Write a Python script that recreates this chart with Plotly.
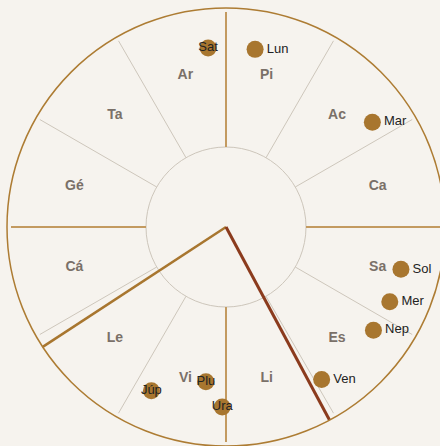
import plotly.graph_objects as go

# ---- data ----
SIGNS = ["Ar", "Ta", "Gé", "Cá", "Le", "Vi", "Li", "Es", "Sa", "Ca", "Ac", "Pi"]
SIGN_START = [0, 30, 60, 90, 120, 150, 180, 210, 240, 270, 300, 330]
PLANETS = ["Sol", "Lun", "Mer", "Ven", "Mar", "Júp", "Sat", "Ura", "Nep", "Plu"]
PLANET_LON = [256.4, 350.7, 245.5, 212.1, 305.6, 155.5, 5.7, 178.8, 235.0, 172.6]
PLANET_R = [180, 180, 180, 180, 180, 180, 180, 180, 180, 156]
ANGLES = ["Asc", "MC"]
ANGLE_LON = [123.2, 208.2]

# ---- style ----
BG = "#f6f3ee"
GOLD = "#a8762f"
RIM = "#ad7c33"
CARD = "#c39a60"
GRAY = "#cdc6bb"
INNER_R, LINE_R, LABEL_R, OUTER_R = 80, 215, 157, 219

fig = go.Figure()

card_r, card_t, oth_r, oth_t = [], [], [], []
for s in SIGN_START:
    if s % 90 == 0:
        card_r += [INNER_R, LINE_R, None]
        card_t += [s, s, None]
    else:
        oth_r += [INNER_R, LINE_R, None]
        oth_t += [s, s, None]

fig.add_trace(go.Scatterpolar(r=oth_r, theta=oth_t, mode="lines",
                              line=dict(color=GRAY, width=1), hoverinfo="skip"))
fig.add_trace(go.Scatterpolar(r=card_r, theta=card_t, mode="lines",
                              line=dict(color=CARD, width=2), hoverinfo="skip"))

fig.add_trace(go.Scatterpolar(
    r=[LABEL_R] * len(SIGNS), theta=[s + 15 for s in SIGN_START], text=SIGNS,
    mode="text", textfont=dict(family="Liberation Sans, Arial, sans-serif",
                               size=14, color="#7a7068", weight="bold"),
    hoverinfo="skip"))

angle_colors = [GOLD, "#8b3b1d"]
angle_widths = [2.5, 3]
for name, lon, c, w in zip(ANGLES, ANGLE_LON, angle_colors, angle_widths):
    fig.add_trace(go.Scatterpolar(r=[0, OUTER_R], theta=[lon, lon], mode="lines",
                                  name=name, line=dict(color=c, width=w)))

positions = ["middle right" if 180 < lon < 360 else "middle center" for lon in PLANET_LON]
fig.add_trace(go.Scatterpolar(
    r=PLANET_R, theta=PLANET_LON, text=PLANETS, mode="markers+text",
    textposition=positions,
    marker=dict(size=17, color=GOLD),
    textfont=dict(family="Liberation Sans, Arial, sans-serif", size=13, color="#222222"),
    cliponaxis=False))

W, H = 452, 454
CX, CY = 226, 227
fig.update_layout(
    width=W, height=H,
    margin=dict(l=0, r=0, t=0, b=0),
    paper_bgcolor=BG,
    showlegend=False,
    polar=dict(
        domain=dict(x=[(CX - OUTER_R) / W, (CX + OUTER_R) / W],
                    y=[(H - CY - OUTER_R) / H, (H - CY + OUTER_R) / H]),
        bgcolor=BG,
        radialaxis=dict(range=[0, OUTER_R], visible=True, showline=False,
                        showticklabels=False, ticks="", tickvals=[INNER_R],
                        showgrid=True, gridcolor=GRAY, gridwidth=1),
        angularaxis=dict(rotation=90, direction="counterclockwise",
                         showgrid=False, showticklabels=False, ticks="",
                         showline=True, linecolor=RIM, linewidth=1.5),
    ),
)

fig.write_html(
    "out.html",
    config={"displayModeBar": False},
    post_script="document.body.style.margin='0';"
                "document.body.style.overflow='hidden';"
                "document.body.style.background='" + BG + "';",
)
